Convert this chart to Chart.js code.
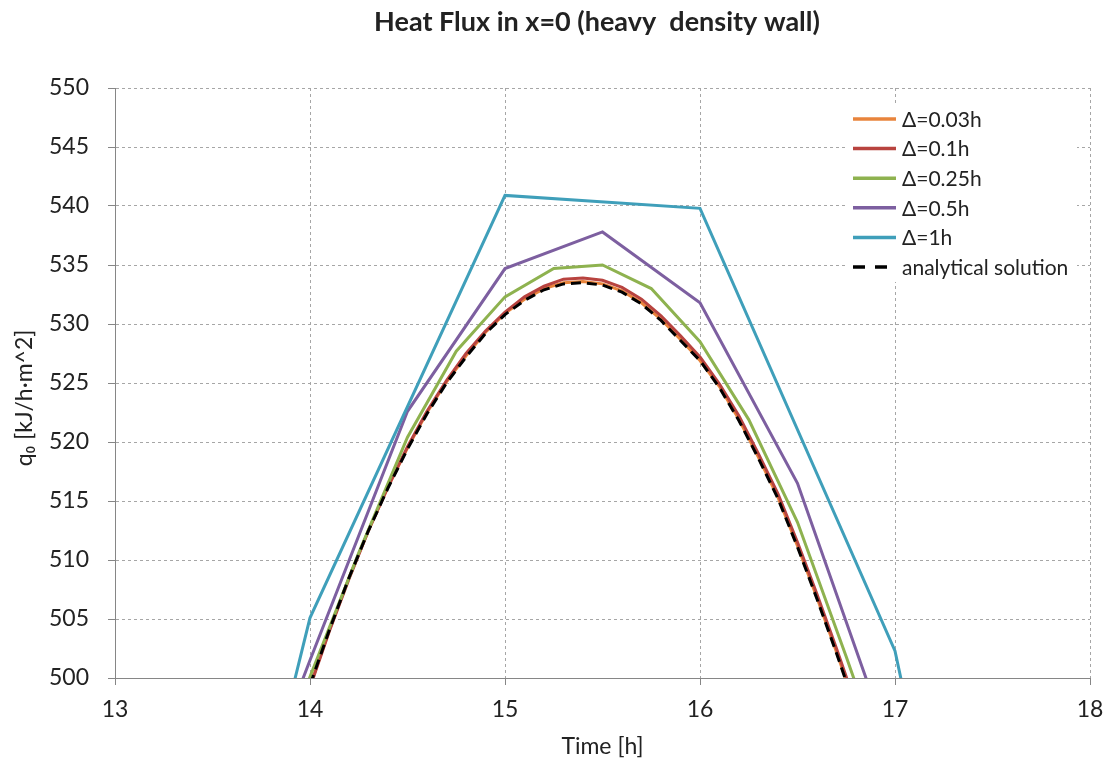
<!DOCTYPE html>
<html>
<head>
<meta charset="utf-8">
<script src="https://cdn.jsdelivr.net/npm/chart.js@4.4.0/dist/chart.umd.min.js"></script>
<style>
  body { margin: 0; background: #fff; }
  #wrap { width: 1105px; height: 758px; }
</style>
</head>
<body>
<div id="wrap"><canvas id="chart" width="1105" height="758"></canvas></div>
<script>
// axis ticks
const xTicks = [13, 14, 15, 16, 17, 18];
const yTicks = [500, 505, 510, 515, 520, 525, 530, 535, 540, 545, 550];

// time steps of each series [h]
const tFine = [13.9, 14.0, 14.1, 14.2, 14.3, 14.4, 14.5, 14.6, 14.7, 14.8, 14.9, 15.0, 15.1, 15.2, 15.3, 15.4,
  15.5, 15.6, 15.7, 15.8, 15.9, 16.0, 16.1, 16.2, 16.3, 16.4, 16.5, 16.6, 16.7, 16.8, 16.9];
const tQuarter = [13.75, 14.0, 14.25, 14.5, 14.75, 15.0, 15.25, 15.5, 15.75, 16.0, 16.25, 16.5, 16.75, 17.0];
const tHalf = [13.5, 14.0, 14.5, 15.0, 15.5, 16.0, 16.5, 17.0];
const tHour = [13, 14, 15, 16, 17, 18];

// heat flux q0 [kJ/h·m^2]
const q003 = [494.2, 499.3, 504.1, 508.5, 512.5, 516.2, 519.5, 522.5, 525.1, 527.3, 529.3, 530.9, 532.1, 533.0, 533.5, 533.6,
  533.4, 532.8, 531.8, 530.4, 528.7, 526.9, 524.7, 521.9, 518.7, 515.3, 511.2, 506.8, 502.2, 497.4, 492.5];
const q01 = [494.0, 499.2, 504.0, 508.4, 512.5, 516.2, 519.6, 522.6, 525.2, 527.5, 529.4, 531.0, 532.3, 533.2, 533.8, 533.9,
  533.7, 533.1, 532.1, 530.7, 529.0, 527.2, 524.9, 522.2, 519.0, 515.6, 511.5, 507.1, 502.5, 497.7, 492.8];
const q025 = [489.0, 500.1, 510.6, 520.4, 527.7, 532.3, 534.7, 535.0, 533.0, 528.5, 521.9, 513.2, 501.8, 490.0];
const q05 = [480.0, 501.5, 522.6, 534.7, 537.8, 531.8, 516.5, 493.0];
const q1 = [438.0, 505.1, 540.9, 539.8, 502.3, 425.0];
const qExact = [494.3, 499.4, 504.1, 508.5, 512.5, 516.1, 519.4, 522.4, 525.0, 527.2, 529.2, 530.8, 532.0, 532.9, 533.4, 533.5,
  533.3, 532.7, 531.7, 530.3, 528.6, 526.9, 524.6, 521.8, 518.6, 515.2, 511.1, 506.7, 502.1, 497.3, 492.4];

const pts = (xs, ys) => xs.map((x, i) => ({ x: x, y: ys[i] }));

const FONT = "Lato, 'Open Sans', sans-serif";
const TXT = "#222";

// title, y title and the in-plot legend like the spreadsheet one
const decor = {
  id: "decor",
  afterDraw(chart) {
    const ctx = chart.ctx;
    ctx.save();
    ctx.fillStyle = TXT;
    ctx.font = "bold 27px " + FONT;
    ctx.textAlign = "center";
    ctx.textBaseline = "middle";
    ctx.fillText("Heat Flux in x=0 (heavy  density wall)", 597, 22);

    ctx.save();
    ctx.translate(25, 398);
    ctx.rotate(-Math.PI / 2);
    ctx.font = "23px " + FONT;
    ctx.fillText("q₀ [kJ/h·m^2]", 0, 0);
    ctx.restore();

    ctx.fillStyle = "#fff";
    ctx.fillRect(848, 105, 229, 177);
    ctx.font = "21px " + FONT;
    ctx.textAlign = "left";
    chart.data.datasets.forEach((ds, i) => {
      const y = 119 + i * 29.6;
      ctx.beginPath();
      ctx.strokeStyle = ds.borderColor;
      ctx.lineWidth = 3.5;
      ctx.setLineDash(ds.borderDash ? [12, 10] : []);
      ctx.moveTo(853, y);
      ctx.lineTo(896, y);
      ctx.stroke();
      ctx.fillStyle = TXT;
      ctx.fillText(ds.label, 902, y + 1);
    });
    ctx.restore();
  }
};

new Chart(document.getElementById("chart"), {
  type: "line",
  data: {
    datasets: [
      { label: "Δ=0.03h", data: pts(tFine, q003), borderColor: "#E8843C", order: 5 },
      { label: "Δ=0.1h", data: pts(tFine, q01), borderColor: "#B8433F", order: 4 },
      { label: "Δ=0.25h", data: pts(tQuarter, q025), borderColor: "#8EB24F", order: 3 },
      { label: "Δ=0.5h", data: pts(tHalf, q05), borderColor: "#7D5FA0", order: 2 },
      { label: "Δ=1h", data: pts(tHour, q1), borderColor: "#3F9FBA", order: 1 },
      { label: "analytical solution", data: pts(tFine, qExact), borderColor: "#000", borderDash: [10, 6], order: 0 }
    ]
  },
  options: {
    responsive: false,
    animation: false,
    layout: { padding: { top: 88, right: 3, left: 0, bottom: 0 } },
    elements: {
      point: { radius: 0 },
      line: { borderWidth: 3, tension: 0, fill: false }
    },
    plugins: {
      legend: { display: false },
      title: { display: false },
      tooltip: { enabled: false }
    },
    scales: {
      x: {
        type: "linear",
        min: 13,
        max: 18,
        afterBuildTicks: s => { s.ticks = xTicks.map(v => ({ value: v })); },
        afterFit: s => { s.height = 80; s.paddingRight = 15; s.paddingLeft = 0; },
        ticks: { color: TXT, font: { family: FONT, size: 23 }, padding: 11, maxRotation: 0 },
        grid: { color: "#a6a6a6", tickLength: 7, tickColor: "#868686", tickWidth: 1 },
        border: { color: "#868686", width: 1, dash: [3, 3] },
        title: { display: true, text: "Time [h]", color: TXT, font: { family: FONT, size: 23 }, padding: { top: 0, bottom: -2 } }
      },
      y: {
        min: 500,
        max: 550,
        afterBuildTicks: s => { s.ticks = yTicks.map(v => ({ value: v })); },
        afterFit: s => { s.width = 115; },
        ticks: { color: TXT, font: { family: FONT, size: 23 }, padding: 19 },
        grid: { color: "#a6a6a6", tickLength: 7, tickColor: "#868686", tickWidth: 1 },
        border: { color: "#868686", width: 1, dash: [3, 3] }
      }
    }
  },
  plugins: [decor]
});
</script>
</body>
</html>
